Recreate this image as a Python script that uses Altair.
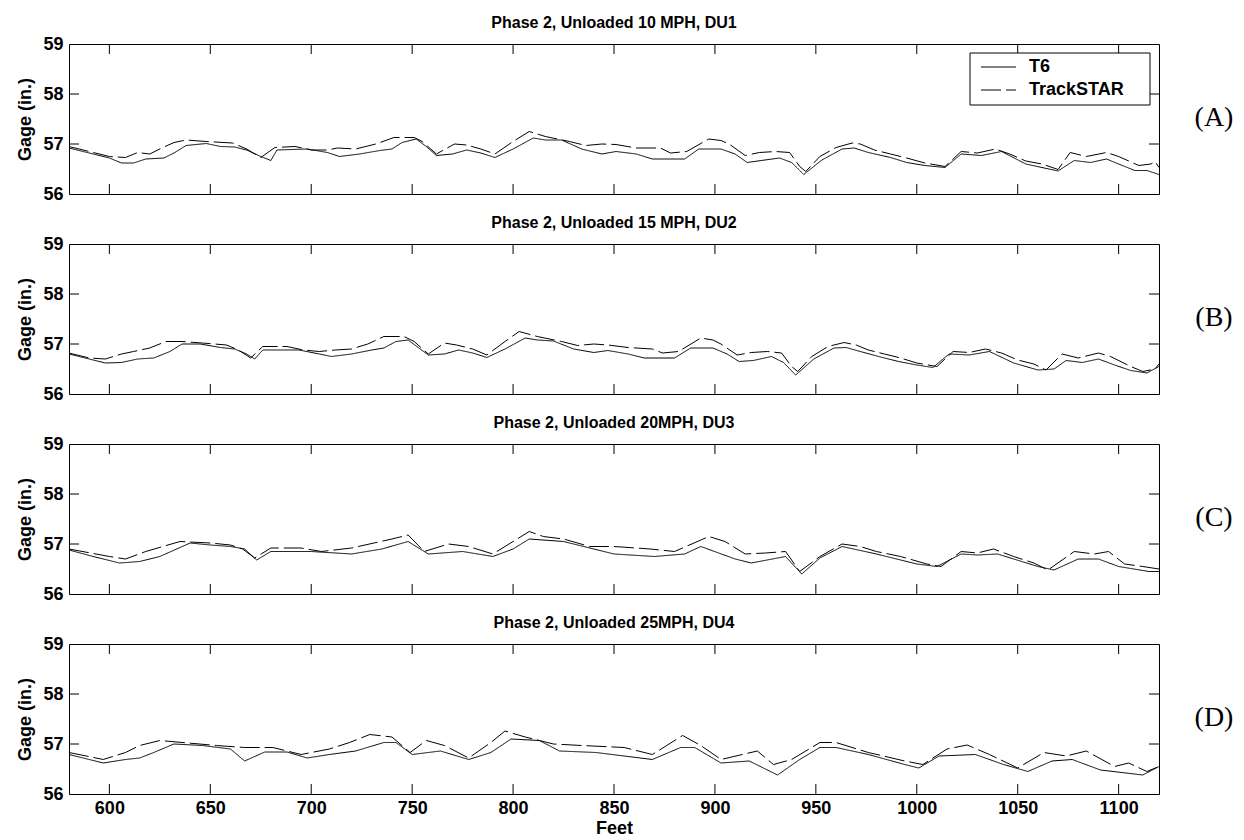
import altair as alt
import pandas as pd

# ---------------- data ----------------
TITLES = ["Phase 2, Unloaded 10 MPH, DU1", "Phase 2, Unloaded 15 MPH, DU2",
          "Phase 2, Unloaded 20MPH, DU3", "Phase 2, Unloaded 25MPH, DU4"]
TAGS = ["(A)", "(B)", "(C)", "(D)"]
SERIES = ["T6", "TrackSTAR"]
XTICKS = [600, 650, 700, 750, 800, 850, 900, 950, 1000, 1050, 1100]
YTICKS_INNER = [57, 58]
YLABELS = [56, 57, 58, 59]

# Panel A
a_t6_x = [580, 590, 600, 606, 612, 618, 627, 632, 638, 648, 655, 662, 668, 675, 680, 683, 698, 708, 714, 724, 734, 740, 745, 752, 757, 762, 770, 777, 784, 791, 800, 810, 816, 824, 834, 844, 851, 861, 869, 885, 892, 903, 910, 916, 923, 932, 938, 944, 953, 963, 969, 976, 987, 995, 1004, 1014, 1022, 1032, 1042, 1054, 1070, 1078, 1086, 1094, 1100, 1108, 1114, 1120]
a_t6_y = [56.92, 56.82, 56.72, 56.62, 56.62, 56.7, 56.72, 56.82, 56.97, 57.01, 56.95, 56.94, 56.88, 56.75, 56.67, 56.88, 56.9, 56.83, 56.75, 56.8, 56.87, 56.9, 57.03, 57.1, 56.95, 56.77, 56.8, 56.88, 56.82, 56.73, 56.9, 57.12, 57.08, 57.08, 56.9, 56.8, 56.85, 56.8, 56.7, 56.7, 56.9, 56.9, 56.8, 56.63, 56.67, 56.72, 56.63, 56.39, 56.68, 56.9, 56.92, 56.83, 56.73, 56.63, 56.57, 56.53, 56.8, 56.77, 56.85, 56.6, 56.46, 56.67, 56.63, 56.7, 56.6, 56.47, 56.47, 56.39]
a_ts_x = [580, 590, 600, 608, 614, 620, 626, 632, 638, 648, 661, 668, 675, 682, 692, 700, 708, 713, 722, 732, 741, 751, 755, 762, 771, 777, 784, 791, 800, 808, 816, 828, 836, 844, 851, 861, 873, 878, 886, 897, 903, 907, 915, 922, 930, 937, 942, 945, 952, 960, 968, 972, 979, 987, 995, 1004, 1014, 1022, 1030, 1039, 1046, 1054, 1062, 1070, 1076, 1084, 1094, 1100, 1110, 1116, 1118, 1120]
a_ts_y = [56.95, 56.85, 56.75, 56.73, 56.83, 56.8, 56.92, 57.03, 57.08, 57.05, 57.02, 56.9, 56.73, 56.93, 56.95, 56.88, 56.88, 56.92, 56.9, 57.0, 57.13, 57.13, 57.05, 56.8, 57.0, 56.98, 56.9, 56.8, 57.05, 57.25, 57.15, 57.05, 56.97, 57.0, 56.99, 56.92, 56.92, 56.82, 56.85, 57.1, 57.07, 57.0, 56.77, 56.83, 56.85, 56.83, 56.55, 56.45, 56.75, 56.93, 57.02, 57.0, 56.88, 56.8, 56.72, 56.62, 56.55, 56.85, 56.82, 56.9, 56.8, 56.66, 56.6, 56.49, 56.83, 56.75, 56.83, 56.75, 56.57, 56.6, 56.65, 56.53]

# Panel B
b_t6_x = [580, 590, 598, 606, 614, 622, 630, 636, 645, 655, 662, 668, 672, 676, 694, 704, 710, 720, 730, 736, 742, 748, 754, 758, 766, 773, 780, 787, 796, 806, 812, 820, 830, 840, 847, 857, 865, 880, 888, 899, 906, 912, 919, 928, 934, 940, 949, 959, 965, 972, 983, 991, 1000, 1008, 1016, 1026, 1036, 1048, 1060, 1068, 1074, 1082, 1090, 1098, 1106, 1114, 1120]
b_t6_y = [56.8, 56.7, 56.62, 56.63, 56.7, 56.72, 56.85, 57.0, 57.0, 56.93, 56.9, 56.8, 56.7, 56.88, 56.88, 56.8, 56.75, 56.8, 56.88, 56.92, 57.05, 57.08, 56.9, 56.78, 56.8, 56.88, 56.82, 56.73, 56.9, 57.12, 57.08, 57.06, 56.9, 56.83, 56.87, 56.8, 56.72, 56.72, 56.92, 56.92, 56.8, 56.65, 56.67, 56.75, 56.63, 56.38, 56.7, 56.92, 56.93, 56.85, 56.73, 56.65, 56.58, 56.53, 56.8, 56.78, 56.85, 56.62, 56.48, 56.5, 56.67, 56.63, 56.7, 56.58, 56.47, 56.42, 56.55]
b_ts_x = [580, 590, 598, 606, 612, 620, 628, 636, 646, 658, 664, 670, 676, 688, 696, 704, 712, 720, 728, 736, 746, 751, 758, 766, 772, 780, 787, 796, 803, 812, 824, 832, 840, 847, 857, 869, 874, 882, 893, 899, 903, 911, 918, 926, 933, 938, 941, 948, 956, 964, 970, 976, 984, 992, 1000, 1010, 1018, 1026, 1034, 1042, 1050, 1058, 1064, 1072, 1080, 1090, 1096, 1106, 1112, 1118, 1120]
b_ts_y = [56.82, 56.72, 56.7, 56.8, 56.85, 56.92, 57.05, 57.05, 57.02, 56.98, 56.88, 56.72, 56.95, 56.95, 56.88, 56.85, 56.88, 56.9, 57.0, 57.15, 57.15, 57.05, 56.8, 57.02, 56.98, 56.9, 56.78, 57.05, 57.25, 57.15, 57.05, 56.97, 57.0, 56.98, 56.93, 56.9, 56.82, 56.85, 57.12, 57.08, 57.0, 56.78, 56.83, 56.85, 56.82, 56.55, 56.45, 56.75, 56.95, 57.03, 56.98, 56.88, 56.8, 56.72, 56.62, 56.55, 56.85, 56.83, 56.9, 56.82, 56.68, 56.6, 56.48, 56.8, 56.72, 56.82, 56.75, 56.55, 56.45, 56.5, 56.6]

# Panel C
c_t6_x = [580, 592, 605, 615, 625, 640, 650, 660, 667, 673, 680, 700, 720, 735, 748, 758, 775, 790, 800, 808, 825, 840, 850, 870, 885, 893, 910, 918, 935, 943, 952, 963, 980, 1000, 1010, 1022, 1030, 1040, 1060, 1068, 1080, 1090, 1100, 1115, 1120]
c_t6_y = [56.88, 56.75, 56.62, 56.65, 56.75, 57.02, 56.98, 56.95, 56.9, 56.68, 56.85, 56.85, 56.8, 56.9, 57.05, 56.8, 56.85, 56.75, 56.9, 57.1, 57.05, 56.9, 56.8, 56.75, 56.8, 56.95, 56.7, 56.62, 56.75, 56.4, 56.72, 56.95, 56.8, 56.6, 56.55, 56.8, 56.78, 56.8, 56.55, 56.48, 56.7, 56.7, 56.55, 56.45, 56.45]
c_ts_x = [580, 600, 608, 618, 635, 650, 660, 666, 672, 680, 695, 705, 720, 740, 748, 756, 768, 778, 790, 800, 808, 815, 825, 838, 850, 868, 880, 897, 905, 915, 925, 935, 942, 952, 963, 972, 980, 992, 1005, 1012, 1022, 1030, 1038, 1048, 1058, 1065, 1078, 1088, 1095, 1103, 1112, 1120]
c_ts_y = [56.9, 56.75, 56.7, 56.85, 57.05, 57.02, 56.98, 56.9, 56.72, 56.92, 56.92, 56.85, 56.92, 57.1, 57.18, 56.85, 57.0, 56.95, 56.8, 57.05, 57.25, 57.15, 57.1, 56.95, 56.95, 56.9, 56.85, 57.15, 57.05, 56.8, 56.82, 56.85, 56.45, 56.75, 57.0, 56.95, 56.85, 56.75, 56.6, 56.55, 56.85, 56.82, 56.9, 56.75, 56.62, 56.48, 56.85, 56.8, 56.85, 56.6, 56.55, 56.5]

# Panel D
d_t6_x = [580, 597, 608, 615, 622, 632, 646, 660, 667, 677, 688, 698, 709, 722, 736, 742, 750, 764, 778, 789, 799, 813, 823, 841, 855, 869, 883, 890, 903, 917, 931, 942, 952, 960, 976, 994, 1001, 1011, 1029, 1043, 1055, 1067, 1077, 1091, 1112, 1120]
d_t6_y = [56.79, 56.62, 56.69, 56.72, 56.83, 57.0, 56.97, 56.9, 56.66, 56.84, 56.84, 56.72, 56.79, 56.86, 57.03, 57.03, 56.79, 56.86, 56.69, 56.83, 57.1, 57.07, 56.86, 56.83, 56.76, 56.69, 56.93, 56.93, 56.62, 56.66, 56.38, 56.69, 56.93, 56.93, 56.79, 56.59, 56.52, 56.76, 56.79, 56.59, 56.45, 56.66, 56.69, 56.48, 56.38, 56.55]
d_ts_x = [580, 597, 608, 615, 625, 639, 653, 667, 681, 695, 709, 719, 729, 740, 749, 757, 766, 778, 789, 796, 806, 820, 834, 855, 869, 884, 893, 903, 921, 929, 938, 952, 960, 976, 994, 1003, 1015, 1025, 1036, 1050, 1063, 1074, 1084, 1098, 1105, 1114, 1120]
d_ts_y = [56.83, 56.69, 56.83, 56.97, 57.07, 57.02, 56.97, 56.93, 56.93, 56.79, 56.9, 57.03, 57.19, 57.14, 56.83, 57.07, 56.97, 56.72, 57.03, 57.26, 57.14, 57.0, 56.97, 56.93, 56.79, 57.17, 56.97, 56.69, 56.86, 56.59, 56.69, 57.03, 57.03, 56.83, 56.66, 56.59, 56.9, 56.98, 56.79, 56.52, 56.83, 56.76, 56.86, 56.55, 56.62, 56.45, 56.55]

PANELS = [
    (a_t6_x, a_t6_y, a_ts_x, a_ts_y),
    (b_t6_x, b_t6_y, b_ts_x, b_ts_y),
    (c_t6_x, c_t6_y, c_ts_x, c_ts_y),
    (d_t6_x, d_t6_y, d_ts_x, d_ts_y),
]

# ---------------- chart ----------------
W, H = 1090, 150
TICK = 10
FONT = "Liberation Sans"
DASH = [20, 5]
xscale = alt.Scale(domain=[580, 1120], nice=False, zero=False)
yscale = alt.Scale(domain=[56, 59], nice=False, zero=False)

xt_df = pd.DataFrame({"Feet": XTICKS})
yt_df = pd.DataFrame({"Gage": YTICKS_INNER})


def panel(i):
    t6x, t6y, tsx, tsy = PANELS[i]
    df = pd.concat([
        pd.DataFrame({"Feet": t6x, "Gage": t6y, "Series": SERIES[0]}),
        pd.DataFrame({"Feet": tsx, "Gage": tsy, "Series": SERIES[1]}),
    ], ignore_index=True)
    if i == 3:
        xaxis = alt.Axis(values=XTICKS, format="d", title="Feet", labelPadding=5,
                         titlePadding=2, labelFlush=False)
    else:
        xaxis = alt.Axis(values=XTICKS, format="d", labels=False, title="")
    yaxis = alt.Axis(values=YLABELS, format="d", title="Gage (in.)", labelPadding=6,
                     titlePadding=8)
    X = alt.X("Feet:Q", scale=xscale, axis=xaxis)
    Y = alt.Y("Gage:Q", scale=yscale, axis=yaxis)

    lines = alt.Chart(df).mark_line(color="black", strokeWidth=1).encode(
        x=X, y=Y,
        strokeDash=alt.StrokeDash("Series:N",
                                  scale=alt.Scale(domain=SERIES, range=[[1, 0], DASH]),
                                  legend=None),
        order=alt.Order("Feet:Q"),
    )
    top_ticks = alt.Chart(xt_df).mark_rule(color="black", strokeWidth=1).encode(
        x=X, y=alt.value(0), y2=alt.value(TICK))
    bot_ticks = alt.Chart(xt_df).mark_rule(color="black", strokeWidth=1).encode(
        x=X, y=alt.value(H), y2=alt.value(H - TICK))
    left_ticks = alt.Chart(yt_df).mark_rule(color="black", strokeWidth=1).encode(
        y=Y, x=alt.value(0), x2=alt.value(TICK))
    right_ticks = alt.Chart(yt_df).mark_rule(color="black", strokeWidth=1).encode(
        y=Y, x=alt.value(W), x2=alt.value(W - TICK))
    tag = alt.Chart(pd.DataFrame({"tag": [TAGS[i]]})).mark_text(
        font="Liberation Serif", fontSize=28, align="center", baseline="alphabetic",
        color="black").encode(
        text="tag:N", x=alt.value(W + 55), y=alt.value(82))
    layers = [lines, top_ticks, bot_ticks, left_ticks, right_ticks, tag]

    if i == 0:
        # legend box (upper right of panel A)
        lx0, lx1, ly0, ly1 = W - 189, W - 9, 9, 61
        leg_df = pd.DataFrame({"Series": SERIES})
        box = alt.Chart(pd.DataFrame({"b": [1]})).mark_rect(
            fill="white", stroke="black", strokeWidth=1).encode(
            x=alt.value(lx0), x2=alt.value(lx1), y=alt.value(ly0), y2=alt.value(ly1))
        sym_solid = alt.Chart(leg_df[leg_df.Series == "T6"]).mark_rule(
            color="black", strokeWidth=1).encode(
            x=alt.value(lx0 + 11), x2=alt.value(lx0 + 46), y=alt.value(23))
        sym_dash = alt.Chart(leg_df[leg_df.Series == "TrackSTAR"]).mark_rule(
            color="black", strokeWidth=1, strokeDash=DASH).encode(
            x=alt.value(lx0 + 11), x2=alt.value(lx0 + 46), y=alt.value(46))
        lab1 = alt.Chart(leg_df[leg_df.Series == "T6"]).mark_text(
            font=FONT, fontSize=18, fontWeight="bold", align="left", baseline="middle",
            color="black").encode(text="Series:N", x=alt.value(lx0 + 59), y=alt.value(23))
        lab2 = alt.Chart(leg_df[leg_df.Series == "TrackSTAR"]).mark_text(
            font=FONT, fontSize=18, fontWeight="bold", align="left", baseline="middle",
            color="black").encode(text="Series:N", x=alt.value(lx0 + 59), y=alt.value(46))
        layers += [box, sym_solid, sym_dash, lab1, lab2]

    return alt.layer(*layers).properties(
        width=W, height=H,
        title=alt.TitleParams(TITLES[i], font=FONT, fontSize=16, fontWeight="bold",
                              color="black", offset=4, anchor="middle"))


chart = alt.vconcat(*[panel(i) for i in range(4)], spacing=50, bounds="flush").properties(
    padding={"left": 16, "top": 14, "right": 0, "bottom": 0},
    background="white",
).configure_view(stroke="black", strokeWidth=1).configure_axis(
    grid=False, ticks=False, domain=False,
    labelFont=FONT, labelFontSize=18, labelFontWeight="bold", labelColor="black",
    titleFont=FONT, titleFontSize=18, titleFontWeight="bold", titleColor="black",
)

chart.save("out.html", embed_options={"renderer": "svg", "actions": False})
